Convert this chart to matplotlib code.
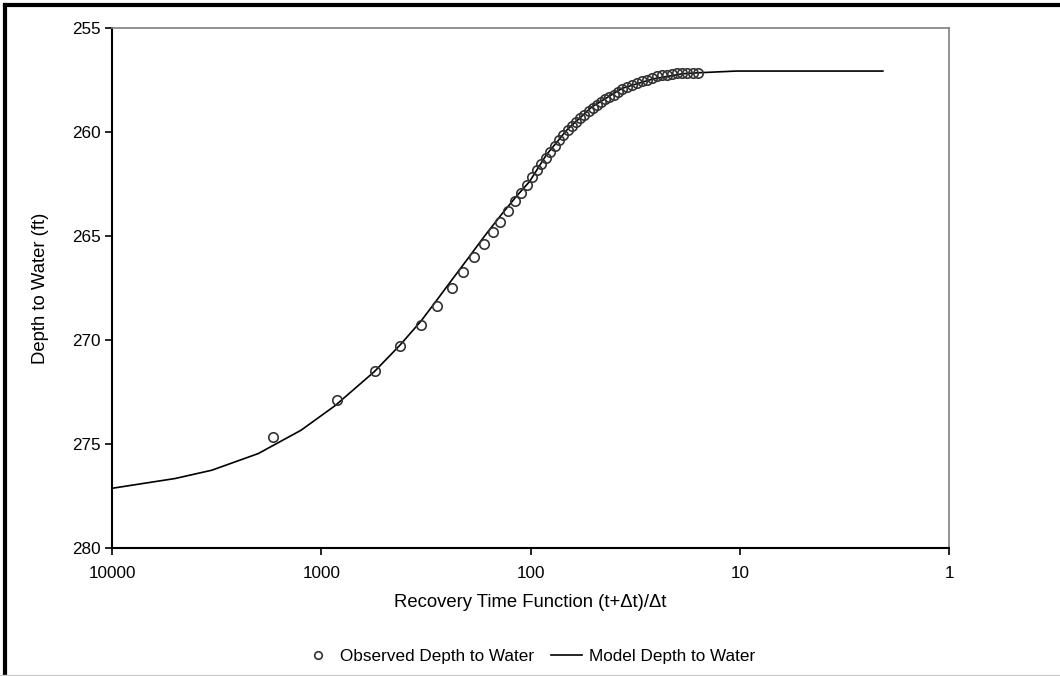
import numpy as np
import matplotlib
matplotlib.use("Agg")
import matplotlib.pyplot as plt
from matplotlib.lines import Line2D

plt.rcParams["font.family"] = ["Liberation Sans", "DejaVu Sans"]

# observed recovery data
obs_x = [1695, 838, 556, 419, 333, 280, 238, 210, 186.5, 167, 151, 140, 128,
         119, 111, 104.3, 98.1, 93.6, 89.2, 84.7, 80.8, 76.4, 73.1, 69.6, 66.4,
         63.5, 60.8, 57.9, 55.2, 52.8, 50.5, 48.2, 45.9, 43.9, 42.0, 40.0, 38.2,
         36.5, 34.6, 32.7, 30.9, 29.3, 27.7, 26.2, 24.8, 23.5, 22.2, 21.0, 19.9,
         18.8, 17.8, 16.8, 15.9]
obs_y = [274.67, 272.89, 271.51, 270.29, 269.28, 268.36, 267.48, 266.72, 266.02,
         265.38, 264.81, 264.33, 263.78, 263.34, 262.94, 262.56, 262.14, 261.82,
         261.56, 261.23, 260.95, 260.66, 260.39, 260.15, 259.91, 259.70, 259.51,
         259.35, 259.16, 259.00, 258.84, 258.68, 258.56, 258.43, 258.32, 258.21,
         258.08, 257.92, 257.84, 257.76, 257.65, 257.56, 257.49, 257.41, 257.33,
         257.28, 257.25, 257.20, 257.17, 257.15, 257.15, 257.15, 257.15]

# model curve
model_x = [10000, 5000, 3333, 2000, 1250, 857, 556, 419, 333, 288, 240, 199,
           166, 138, 117, 101, 84, 67, 51, 36.5, 26, 18.8, 15.6, 10.4, 2.07]
model_y = [277.13, 276.66, 276.26, 275.46, 274.34, 273.15, 271.51, 270.23,
           269.08, 268.24, 267.17, 266.08, 265.01, 263.98, 263.10, 262.38, 261.1,
           259.9, 258.8, 257.9, 257.45, 257.2, 257.15, 257.07, 257.07]

x_ticks = [10000, 1000, 100, 10, 1]
y_ticks = [255, 260, 265, 270, 275, 280]

fig = plt.figure(figsize=(10.6, 6.76), dpi=100)
ax = fig.add_axes([112 / 1060, 1 - 548 / 676, (949 - 112) / 1060, (548 - 28) / 676])

ax.plot(obs_x, obs_y, "o", mfc="none", mec="#333333", ms=6.8, mew=1.2,
        label="Observed Depth to Water", zorder=3)
ax.plot(model_x, model_y, "-", color="black", lw=1.2,
        label="Model Depth to Water", zorder=2)

ax.set_xscale("log")
ax.set_xlim(10000, 1)
ax.set_ylim(280, 255)
ax.set_xticks(x_ticks)
ax.set_xticklabels([str(v) for v in x_ticks])
ax.xaxis.set_minor_locator(matplotlib.ticker.NullLocator())
ax.set_yticks(y_ticks)

ax.spines["left"].set_linewidth(1.5)
ax.spines["bottom"].set_linewidth(1.5)
ax.spines["top"].set_color("#808080")
ax.spines["right"].set_color("#808080")
ax.spines["top"].set_linewidth(1.2)
ax.spines["right"].set_linewidth(1.2)
ax.tick_params(axis="both", direction="out", length=5, width=1.2,
               labelsize=12.3, colors="black")
ax.tick_params(axis="x", pad=8)
ax.tick_params(axis="y", pad=3)

ax.set_xlabel("Recovery Time Function (t+\u0394t)/\u0394t", fontsize=13.3, labelpad=9)
ax.set_ylabel("Depth to Water (ft)", fontsize=13.3, labelpad=17)

fig.legend(loc="center", bbox_to_anchor=(0.499, 1 - 656 / 676), ncol=2,
           frameon=False, fontsize=12.3, handlelength=1.8, columnspacing=1.0,
           handletextpad=0.4, markerscale=0.8)

# outer chart border (top and left edges)
fig.add_artist(Line2D([0.005, 1], [1 - 4.5 / 676, 1 - 4.5 / 676], color="black", lw=3,
                      transform=fig.transFigure))
fig.add_artist(Line2D([0.005, 0.005], [0, 1 - 4.5 / 676], color="black", lw=3,
                      transform=fig.transFigure))
fig.add_artist(Line2D([0, 1], [0.001, 0.001], color="#cccccc", lw=1,
                      transform=fig.transFigure))

fig.savefig("out.png", dpi=100)
